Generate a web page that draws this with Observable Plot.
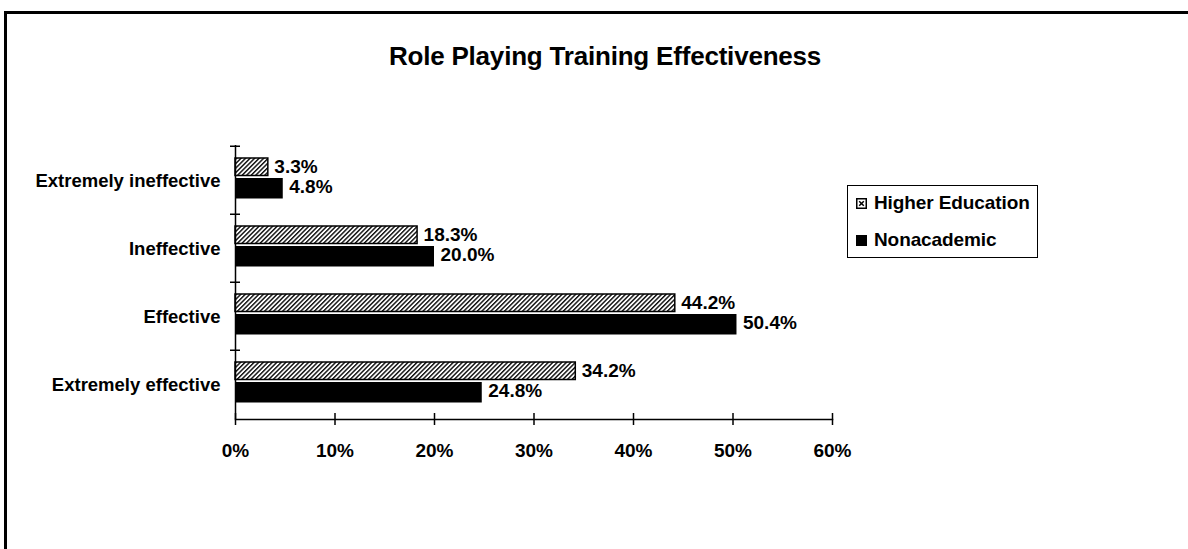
<!DOCTYPE html>
<html>
<head>
<meta charset="utf-8">
<script src="https://cdn.jsdelivr.net/npm/d3@7"></script>
<script src="https://cdn.jsdelivr.net/npm/@observablehq/plot@0.6"></script>
<style>
  body { margin: 0; background: #fff; }
  #page { position: relative; width: 1188px; height: 549px; overflow: hidden;
          font-family: "Liberation Sans", Arial, sans-serif; font-weight: bold; color: #000; }
  #frame { position: absolute; left: 4px; top: 11px; width: 1300px; height: 700px;
           border-left: 3px solid #000; border-top: 3px solid #000; }
  #title { position: absolute; left: 0; width: 1210px; top: 41px; text-align: center;
           font-size: 26px; letter-spacing: -0.2px; line-height: 30px; }
  #chart { position: absolute; left: 0; top: 0; }
  #legend { position: absolute; left: 847px; top: 185px; width: 191px; height: 73px;
            border: 1.5px solid #000; box-sizing: border-box; font-size: 19px; letter-spacing: -0.1px; }
  .item { position: absolute; left: 8px; height: 22px; display: flex; align-items: center; gap: 7px; }
  .item svg { display: block; }
</style>
</head>
<body>
<div id="page">
  <div id="frame"></div>
  <div id="title">Role Playing Training Effectiveness</div>
  <div id="chart"></div>
  <div id="legend"></div>
</div>
<script>
// Survey answers, top to bottom
const categories = ["Extremely ineffective", "Ineffective", "Effective", "Extremely effective"];
const series = ["Higher Education", "Nonacademic"];
// Percent of respondents per answer
const higherEducation = [3.3, 18.3, 44.2, 34.2];
const nonacademic = [4.8, 20.0, 50.4, 24.8];
const xTicks = [0, 10, 20, 30, 40, 50, 60];

const rows = [];
categories.forEach((c, i) => {
  rows.push({category: c, series: series[0], value: higherEducation[i]});
  rows.push({category: c, series: series[1], value: nonacademic[i]});
});
const hi = rows.filter(d => d.series === series[0]);
const na = rows.filter(d => d.series === series[1]);

const W = 1188, H = 549;
const mTop = 145, mBottom = 130, mLeft = 235, mRight = 356;
const plotW = W - mLeft - mRight, plotH = H - mTop - mBottom;
const step = plotH / categories.length;
const font = {fontFamily: '"Liberation Sans", Arial, sans-serif', fontWeight: "bold"};
const pct = d => d + "%";

// hatch fill used by the Higher Education bars
const defs = () => {
  const d = d3.create("svg:defs");
  const p = d.append("pattern").attr("id", "hatch").attr("patternUnits", "userSpaceOnUse")
    .attr("width", 3.2).attr("height", 3.2).attr("patternTransform", "rotate(45)");
  p.append("rect").attr("width", 3.2).attr("height", 3.2).attr("fill", "#fff");
  p.append("line").attr("x1", 0.7).attr("y1", 0).attr("x2", 0.7).attr("y2", 3.2)
    .attr("stroke", "#111").attr("stroke-width", 1.5);
  return d.node();
};

const labelStyle = {textAnchor: "start", dx: 6, fontSize: 19, fontWeight: "bold", fill: "#000",
  style: "letter-spacing:0.2px"};

const chart = Plot.plot({
  width: W, height: H,
  marginTop: mTop, marginBottom: mBottom, marginLeft: mLeft, marginRight: mRight,
  style: {background: "transparent", ...font, fontSize: "19px", color: "#000"},
  x: {domain: [0, 60], ticks: xTicks, tickFormat: pct},
  y: {domain: categories, padding: 0},
  marks: [
    defs,
    Plot.barX(hi, {x: "value", y: "category", fill: "url(#hatch)", stroke: "#000", strokeWidth: 1.5,
      insetTop: 12, insetBottom: 38.5}),
    Plot.barX(na, {x: "value", y: "category", fill: "#000", insetTop: 32, insetBottom: 15.5}),
    Plot.text(hi, {x: "value", y: "category", text: d => d.value.toFixed(1) + "%", dy: -14, ...labelStyle}),
    Plot.text(na, {x: "value", y: "category", text: d => d.value.toFixed(1) + "%", dy: 6, ...labelStyle}),
    // axis lines
    Plot.ruleX([0], {stroke: "#000", strokeWidth: 1.5}),
    Plot.frame({anchor: "bottom", stroke: "#000", strokeWidth: 1.5}),
    // category dividers on the vertical axis
    Plot.ruleY(categories, {y: d => d, dy: -step / 2, insetLeft: -5, insetRight: plotW - 5,
      stroke: "#000", strokeWidth: 1.5}),
    // value ticks crossing the horizontal axis
    Plot.ruleX(xTicks, {x: d => d, insetTop: plotH - 6, insetBottom: -6, stroke: "#000", strokeWidth: 1.5}),
    Plot.axisX({ticks: xTicks, tickSize: 0, tickPadding: 24, tickFormat: pct, label: null,
      fontSize: 19, style: "letter-spacing:0.3px"}),
    Plot.axisY({tickSize: 0, tickPadding: 15, label: null, fontSize: 18.5, dy: 1,
      style: "letter-spacing:0px"})
  ]
});
document.getElementById("chart").appendChild(chart);

// legend
const legend = d3.select("#legend");
series.forEach((s, i) => {
  const item = legend.append("div").attr("class", "item").style("top", (i === 0 ? 6 : 43) + "px");
  const sw = item.append("svg").attr("width", 11).attr("height", 11);
  if (i === 0) {
    sw.append("rect").attr("x", 0.75).attr("y", 0.75).attr("width", 9.5).attr("height", 9.5)
      .attr("fill", "#fff").attr("stroke", "#000").attr("stroke-width", 1.5);
    sw.append("path").attr("d", "M3.2,3.2L7.8,7.8M7.8,3.2L3.2,7.8").attr("stroke", "#000").attr("stroke-width", 1.5);
  } else {
    sw.append("rect").attr("width", 11).attr("height", 11).attr("fill", "#000");
  }
  item.append("span").text(s);
});
</script>
</body>
</html>
